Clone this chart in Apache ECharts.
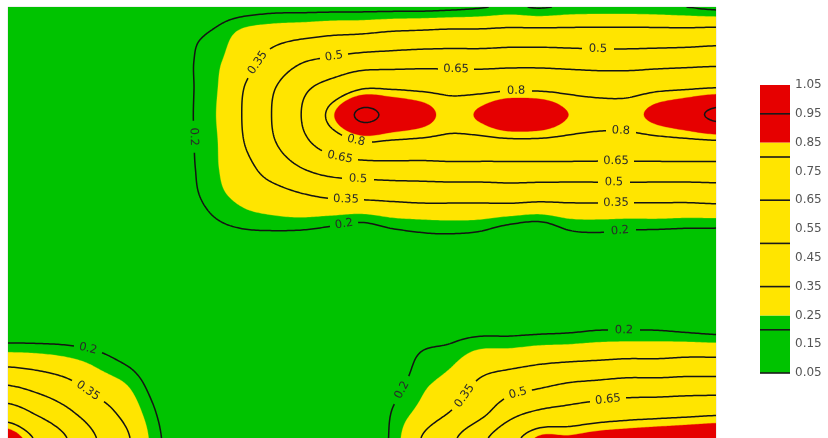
<!DOCTYPE html>
<html><head><meta charset="utf-8">
<script src="https://cdn.jsdelivr.net/npm/echarts@6/dist/echarts.min.js"></script>
<style>html,body{margin:0;padding:0;background:#fff}#c{width:828px;height:438px}</style>
</head><body><div id="c"></div>
<script>
// ---- data ----
const xNodes = [0,1,2,3,4,5,6,7,8,9,10,11,12,13,14,15,16,17,18,19,20,21,22,23,24];
const yNodes = [0,1,2,3,4,5,6,7,8,9,10,11,12,13,14,15,16];
const field = [
 [0.07,0.07,0.07,0.08,0.09,0.11,0.14,0.16,0.17,0.18,0.18,0.18,0.18,0.18,0.18,0.185,0.195,0.21,0.195,0.21,0.215,0.215,0.21,0.20,0.185],
 [0.07,0.07,0.08,0.09,0.10,0.13,0.18,0.21,0.27,0.30,0.32,0.34,0.35,0.37,0.38,0.39,0.39,0.40,0.40,0.40,0.40,0.40,0.40,0.40,0.41],
 [0.07,0.07,0.08,0.09,0.10,0.13,0.185,0.235,0.30,0.40,0.49,0.53,0.57,0.58,0.59,0.59,0.59,0.60,0.60,0.59,0.58,0.58,0.59,0.60,0.61],
 [0.07,0.07,0.08,0.09,0.10,0.13,0.185,0.24,0.35,0.49,0.62,0.71,0.79,0.79,0.78,0.77,0.77,0.78,0.78,0.77,0.76,0.76,0.78,0.79,0.80],
 [0.07,0.07,0.08,0.09,0.10,0.13,0.185,0.245,0.36,0.51,0.66,0.84,0.97,0.92,0.88,0.83,0.86,0.92,0.91,0.85,0.83,0.83,0.87,0.91,0.97],
 [0.07,0.07,0.08,0.09,0.10,0.13,0.185,0.24,0.35,0.49,0.62,0.73,0.80,0.79,0.78,0.77,0.77,0.78,0.78,0.77,0.76,0.76,0.77,0.78,0.79],
 [0.07,0.07,0.08,0.09,0.10,0.13,0.18,0.24,0.31,0.41,0.50,0.56,0.58,0.59,0.59,0.60,0.60,0.60,0.60,0.60,0.60,0.60,0.60,0.60,0.60],
 [0.07,0.07,0.08,0.09,0.10,0.12,0.17,0.23,0.27,0.30,0.34,0.37,0.38,0.39,0.40,0.40,0.40,0.41,0.40,0.40,0.40,0.40,0.40,0.40,0.41],
 [0.07,0.07,0.08,0.09,0.10,0.11,0.14,0.19,0.22,0.23,0.23,0.215,0.20,0.225,0.235,0.24,0.235,0.21,0.195,0.23,0.235,0.23,0.23,0.225,0.225],
 [0.07,0.07,0.08,0.09,0.10,0.10,0.11,0.12,0.13,0.13,0.13,0.13,0.12,0.14,0.16,0.16,0.15,0.12,0.11,0.15,0.16,0.15,0.14,0.14,0.14],
 [0.08,0.08,0.08,0.09,0.09,0.09,0.09,0.09,0.09,0.09,0.09,0.09,0.09,0.09,0.10,0.10,0.10,0.09,0.09,0.10,0.10,0.10,0.10,0.10,0.10],
 [0.12,0.12,0.11,0.11,0.10,0.09,0.08,0.07,0.07,0.07,0.07,0.07,0.08,0.09,0.10,0.11,0.12,0.12,0.12,0.13,0.13,0.13,0.13,0.12,0.12],
 [0.15,0.15,0.15,0.14,0.12,0.11,0.10,0.08,0.07,0.07,0.07,0.08,0.09,0.11,0.15,0.17,0.18,0.18,0.185,0.19,0.20,0.20,0.20,0.19,0.18],
 [0.28,0.27,0.25,0.22,0.18,0.14,0.12,0.10,0.08,0.08,0.08,0.09,0.10,0.13,0.21,0.23,0.28,0.29,0.31,0.32,0.33,0.34,0.34,0.35,0.35],
 [0.49,0.44,0.38,0.30,0.25,0.17,0.13,0.11,0.09,0.09,0.09,0.10,0.12,0.17,0.235,0.28,0.37,0.43,0.47,0.51,0.53,0.55,0.55,0.56,0.56],
 [0.71,0.62,0.52,0.41,0.31,0.20,0.14,0.12,0.10,0.10,0.10,0.11,0.13,0.20,0.27,0.35,0.45,0.59,0.66,0.69,0.72,0.74,0.75,0.76,0.77],
 [0.90,0.78,0.65,0.50,0.37,0.22,0.15,0.12,0.10,0.10,0.10,0.12,0.14,0.21,0.35,0.47,0.61,0.75,0.86,0.86,0.88,0.89,0.90,0.91,0.92]
];
const contourLevels = [0.05, 0.2, 0.35, 0.5, 0.65, 0.8, 0.95];
const bandEdges = [0.05, 0.25, 0.85, 1.05];
const bandColors = ['#00c300', '#ffe500', '#e60000'];
// label anchors (axis units), snapped to the computed contour
const labelHints = [
 ['0.35',8.54,2.15],['0.5',11.02,1.85],['0.65',15.22,2.22],['0.8',17.19,3.11],['0.5',20.0,1.52],
 ['0.2',6.54,4.81],['0.8',11.83,4.85],['0.65',11.25,5.48],['0.5',11.83,6.41],['0.35',11.46,7.11],['0.2',11.36,8.0],
 ['0.8',20.78,4.67],['0.65',20.61,5.74],['0.5',20.54,6.48],['0.35',20.61,7.26],['0.2',20.75,8.26],
 ['0.2',2.71,12.81],['0.35',2.68,14.26],['0.2',13.22,14.15],['0.35',15.42,14.37],['0.5',17.25,14.30],['0.65',20.34,14.67],['0.2',20.85,11.93]
];

// ---- layout ----
const G = {left: 8, top: 7, width: 708, height: 432};
const CB = {left: 760, top: 85, width: 30, height: 288};
const XMAX = xNodes[xNodes.length-1], YMAX = yNodes[yNodes.length-1];
const NX = 354, NY = 216;
const FONT = '"DejaVu Sans", sans-serif';

// ---- smooth rendering of the value grid (Catmull-Rom) ----
function cr(p0,p1,p2,p3,t){ return p1 + 0.5*t*(p2-p0 + t*(2*p0-5*p1+4*p2-p3 + t*(3*(p1-p2)+p3-p0))); }
function sample(u, v){
  const nx = xNodes.length, ny = yNodes.length;
  let i = Math.max(0, Math.min(nx-2, Math.floor(u)));
  let j = Math.max(0, Math.min(ny-2, Math.floor(v)));
  const tu = u-i, tv = v-j;
  const at = (r,c) => field[Math.max(0,Math.min(ny-1,r))][Math.max(0,Math.min(nx-1,c))];
  const rr = [];
  for (let r=-1;r<=2;r++) rr.push(cr(at(j+r,i-1),at(j+r,i),at(j+r,i+1),at(j+r,i+2),tu));
  return cr(rr[0],rr[1],rr[2],rr[3],tv);
}
const us = [], vs = [];
for (let k=0;k<=NX;k++) us.push(k*XMAX/NX);
for (let l=0;l<=NY;l++) vs.push(l*YMAX/NY);
const F = vs.map(v=>us.map(u=>sample(u,v)));
// padded copy (closes every region along the frame, frame is clipped)
const PAD = 0.06;
const usP = [-PAD].concat(us, [XMAX+PAD]);
const vsP = [-PAD].concat(vs, [YMAX+PAD]);
const FP = vsP.map((v,l)=>usP.map((u,k)=> (l===0||k===0||l===vsP.length-1||k===usP.length-1) ? -1 : F[l-1][k-1]));

// ---- marching squares ----
function contour(F, us, vs, level){
  const NYc = vs.length, NXc = us.length;
  const segs=[], pts={};
  function hk(k,l){ const key='h'+k+'_'+l; if(!(key in pts)){const a=F[l][k],b=F[l][k+1];const t=(level-a)/(b-a);pts[key]=[us[k]+t*(us[k+1]-us[k]),vs[l]];} return key; }
  function vk(k,l){ const key='v'+k+'_'+l; if(!(key in pts)){const a=F[l][k],b=F[l+1][k];const t=(level-a)/(b-a);pts[key]=[us[k],vs[l]+t*(vs[l+1]-vs[l])];} return key; }
  for (let l=0;l<NYc-1;l++) for (let k=0;k<NXc-1;k++){
    const a=F[l][k], b=F[l][k+1], c=F[l+1][k+1], d=F[l+1][k];
    const idx=(a>=level?8:0)|(b>=level?4:0)|(c>=level?2:0)|(d>=level?1:0);
    if (idx===0||idx===15) continue;
    const T=()=>hk(k,l), R=()=>vk(k+1,l), B=()=>hk(k,l+1), L=()=>vk(k,l);
    const center=(a+b+c+d)/4>=level;
    switch(idx){
      case 1: case 14: segs.push([L(),B()]); break;
      case 2: case 13: segs.push([B(),R()]); break;
      case 3: case 12: segs.push([L(),R()]); break;
      case 4: case 11: segs.push([T(),R()]); break;
      case 6: case 9: segs.push([T(),B()]); break;
      case 7: case 8: segs.push([L(),T()]); break;
      case 5: if(center){segs.push([L(),T()]);segs.push([B(),R()]);}else{segs.push([T(),R()]);segs.push([L(),B()]);} break;
      case 10: if(center){segs.push([T(),R()]);segs.push([L(),B()]);}else{segs.push([L(),T()]);segs.push([B(),R()]);} break;
    }
  }
  const adj=new Map();
  segs.forEach((s,i)=>s.forEach(key=>{ if(!adj.has(key)) adj.set(key,[]); adj.get(key).push(i); }));
  const used=new Uint8Array(segs.length);
  function walk(key){
    const out=[]; let cur=key;
    while(true){
      const list=adj.get(cur)||[]; let nxt=-1;
      for(const si of list) if(!used[si]){nxt=si;break;}
      if(nxt<0) break;
      used[nxt]=1; const s=segs[nxt]; cur = s[0]===cur?s[1]:s[0]; out.push(cur);
    }
    return out;
  }
  const lines=[];
  for(let i=0;i<segs.length;i++){
    if(used[i]) continue; used[i]=1;
    const fwd=walk(segs[i][1]); const back=walk(segs[i][0]);
    const chain=back.reverse().concat([segs[i][0],segs[i][1]],fwd);
    lines.push(chain.map(key=>pts[key]));
  }
  return lines;
}

// filled bands: superlevel regions of each band's lower edge, painted in order
const fills = [];
bandEdges.slice(0,-1).forEach((lv,bi)=>{
  contour(FP, usP, vsP, lv).forEach(loop=>{ if(loop.length>2) fills.push({pts:loop, color:bandColors[bi]}); });
});

const sx = G.width/XMAX, sy = G.height/YMAX;
const pieces = [], labels = [];
contourLevels.forEach(level=>{
  const txt = String(level);
  const lines = contour(F, us, vs, level);
  const mine = labelHints.filter(h=>h[0]===txt);
  const centers = [];
  mine.forEach(h=>{
    let best=null, bd=1e9;
    lines.forEach((ln,li)=>ln.forEach((p,pi)=>{ const dx=(p[0]-h[1])*sx, dy=(p[1]-h[2])*sy; const d=dx*dx+dy*dy; if(d<bd){bd=d;best=[li,pi];} }));
    if(!best) return;
    const ln=lines[best[0]]; const pi=best[1];
    const p0=ln[Math.max(0,pi-4)], p1=ln[Math.min(ln.length-1,pi+4)];
    let ang=Math.atan2((p1[1]-p0[1])*sy,(p1[0]-p0[0])*sx);
    if(ang>1.40) ang-=Math.PI; if(ang<-Math.PI/2) ang+=Math.PI;
    const c=ln[pi];
    centers.push(c);
    labels.push({text:txt, u:c[0], v:c[1], rot:-ang});
  });
  const r = 3 + txt.length*3.7;
  lines.forEach(ln=>{
    let cur=[];
    ln.forEach(p=>{
      const gap = centers.some(c=>{const dx=(p[0]-c[0])*sx, dy=(p[1]-c[1])*sy; return dx*dx+dy*dy<r*r;});
      if(gap){ if(cur.length>1) pieces.push(cur); cur=[]; } else cur.push(p);
    });
    if(cur.length>1) pieces.push(cur);
  });
});

const chart = echarts.init(document.getElementById('c'), null, {renderer:'canvas'});
chart.setOption({
  animation:false,
  backgroundColor:'#fff',
  grid:[
    {left:G.left, top:G.top, width:G.width, height:G.height, show:true, borderColor:'#dedede', borderWidth:1},
    {left:CB.left, top:CB.top, width:CB.width, height:CB.height}
  ],
  xAxis:[
    {type:'value', gridIndex:0, min:0, max:XMAX, show:false},
    {type:'value', gridIndex:1, min:0, max:1, show:false}
  ],
  yAxis:[
    {type:'value', gridIndex:0, min:0, max:YMAX, inverse:true, show:false},
    {type:'value', gridIndex:1, min:bandEdges[0], max:bandEdges[bandEdges.length-1], interval:0.1, position:'right',
     axisLine:{show:false}, axisTick:{show:false}, splitLine:{show:false},
     axisLabel:{show:true, showMinLabel:true, showMaxLabel:true, margin:5, color:'#555555', fontSize:12, fontFamily:FONT, formatter:v=>v.toFixed(2)}}
  ],
  series:[
    {type:'custom', xAxisIndex:0, yAxisIndex:0, silent:true, clip:true,
     data:fills.map((f,i)=>[f.pts[0][0],f.pts[0][1],i]),
     renderItem:(params,api)=>{ const f=fills[api.value(2)];
       return {type:'polygon', shape:{points:f.pts.map(p=>api.coord(p))}, style:{fill:f.color, stroke:f.color, lineWidth:0.3}}; }},
    {type:'custom', xAxisIndex:0, yAxisIndex:0, silent:true, clip:true,
     data:pieces.map((p,i)=>[p[0][0],p[0][1],i]),
     renderItem:(params,api)=>({type:'polyline', shape:{points:pieces[api.value(2)].map(p=>api.coord(p))},
       style:{stroke:'#141414', lineWidth:1.5, fill:'none', lineJoin:'round'}})},
    {type:'custom', xAxisIndex:0, yAxisIndex:0, silent:true,
     data:labels.map((L,i)=>[L.u,L.v,i]),
     renderItem:(params,api)=>{ const L=labels[api.value(2)]; const c=api.coord([L.u,L.v]);
       return {type:'text', x:c[0], y:c[1], rotation:L.rot,
         style:{text:L.text, fill:'#2a2a2a', font:'11.5px '+FONT, align:'center', verticalAlign:'middle'}}; }},
    {type:'custom', xAxisIndex:1, yAxisIndex:1, silent:true,
     data:bandColors.map((c,i)=>[bandEdges[i],bandEdges[i+1],i]), encode:{y:[0,1]},
     renderItem:(params,api)=>{ const a=api.coord([0,api.value(1)]), b=api.coord([1,api.value(0)]);
       return {type:'rect', shape:{x:a[0],y:a[1],width:b[0]-a[0],height:b[1]-a[1]}, style:{fill:bandColors[api.value(2)]}}; }},
    {type:'custom', xAxisIndex:1, yAxisIndex:1, silent:true,
     data:contourLevels.map(v=>[v]), encode:{y:0},
     renderItem:(params,api)=>{ const a=api.coord([0,api.value(0)]), b=api.coord([1,api.value(0)]);
       return {type:'line', shape:{x1:a[0],y1:a[1],x2:b[0],y2:b[1]}, style:{stroke:'#1a1a1a', lineWidth:1.6}}; }}
  ]
});
</script></body></html>
